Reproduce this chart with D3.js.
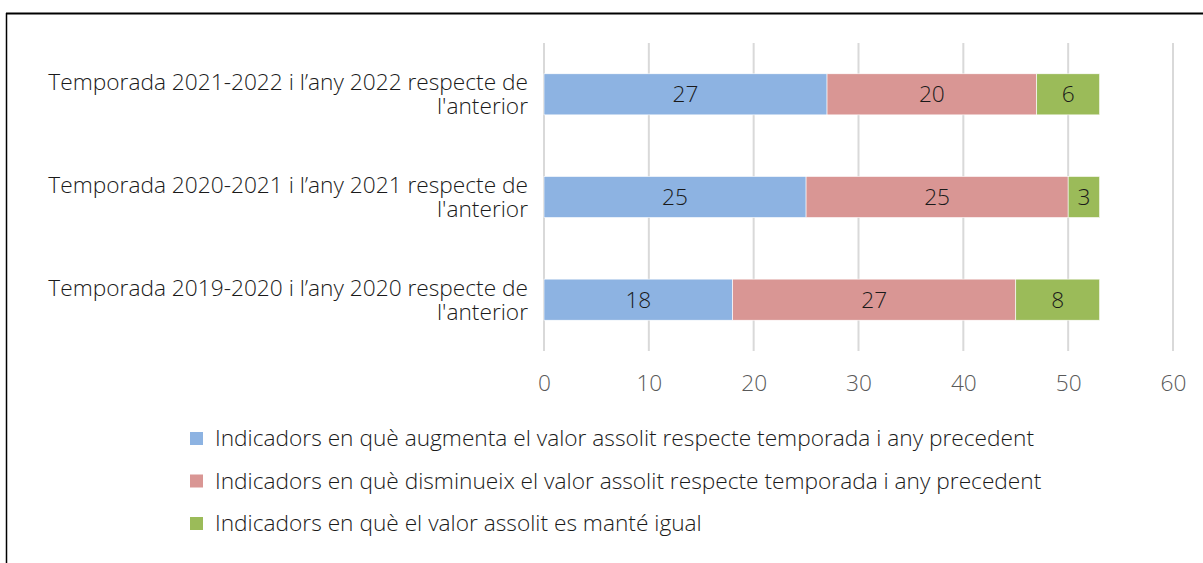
<!DOCTYPE html>
<html>
<head>
<meta charset="utf-8">
<script src="https://cdn.jsdelivr.net/npm/d3@7"></script>
<style>
  body { margin: 0; background: #fff; }
  svg text { font-family: "Open Sans", "Liberation Sans", Arial, sans-serif; font-weight: 300; }
</style>
</head>
<body>
<div id="chart"></div>
<script>
// categories (top to bottom) and the three stacked series
var categories = [
  ["Temporada 2021-2022 i l\u2019any 2022 respecte de", "l'anterior"],
  ["Temporada 2020-2021 i l\u2019any 2021 respecte de", "l'anterior"],
  ["Temporada 2019-2020 i l\u2019any 2020 respecte de", "l'anterior"]
];
var augmenta = [27, 25, 18];
var disminueix = [20, 25, 27];
var igual = [6, 3, 8];
var seriesNames = [
  "Indicadors en què augmenta el valor assolit respecte temporada i any precedent",
  "Indicadors en què disminueix el valor assolit respecte temporada i any precedent",
  "Indicadors en què el valor assolit es manté igual"
];
var seriesColors = ["#8db3e2", "#d99694", "#9bbb59"];
var xTicks = [0, 10, 20, 30, 40, 50, 60];

var W = 1203, H = 563;
var fs = "22.7px";
var svg = d3.select("#chart").append("svg")
  .attr("width", W).attr("height", H);

// outer frame (cut at top and right)
svg.append("line").attr("x1", 6).attr("x2", W).attr("y1", 13.5).attr("y2", 13.5)
  .style("stroke", "#000").style("stroke-width", 2);
svg.append("line").attr("x1", 6.5).attr("x2", 6.5).attr("y1", 13).attr("y2", H)
  .style("stroke", "#000").style("stroke-width", 1.5);

var rows = categories.map(function(c, i) {
  return { key: i, label: c, v: [augmenta[i], disminueix[i], igual[i]] };
});

var x = d3.scaleLinear().domain([0, 60]).range([544, 1173]);
var y = d3.scaleBand().domain(rows.map(function(d) { return d.key; }))
  .range([43, 351]).paddingInner(0.6).paddingOuter(0.3);

// gridlines
svg.append("g").selectAll("line").data(xTicks).enter().append("line")
  .attr("x1", function(d) { return x(d); }).attr("x2", function(d) { return x(d); })
  .attr("y1", 43).attr("y2", 351)
  .style("stroke", "#d9d9d9").style("stroke-width", 2);

// x axis labels
svg.append("g").attr("transform", "translate(0,391)")
  .call(d3.axisBottom(x).tickValues(xTicks).tickSize(0).tickPadding(0))
  .call(function(g) { g.select(".domain").remove(); })
  .selectAll("text")
  .attr("dy", 0)
  .style("font-family", "Open Sans, Liberation Sans, Arial, sans-serif")
  .style("font-weight", 300)
  .style("font-size", fs).style("fill", "#595959");

// stacked bars
var stack = d3.stack().keys([0, 1, 2]).value(function(d, k) { return d.v[k]; });
var layers = stack(rows);

var g = svg.append("g");
layers.forEach(function(layer, k) {
  g.selectAll(".s" + k).data(layer).enter().append("rect")
    .attr("x", function(d) { return x(d[0]); })
    .attr("y", function(d) { return y(d.data.key); })
    .attr("width", function(d) { return x(d[1]) - x(d[0]); })
    .attr("height", y.bandwidth())
    .style("fill", seriesColors[k])
    .style("stroke", "#fff").style("stroke-width", 0.6);
  g.selectAll(".t" + k).data(layer).enter().append("text")
    .attr("x", function(d) { return (x(d[0]) + x(d[1])) / 2; })
    .attr("y", function(d) { return y(d.data.key) + y.bandwidth() / 2 + 8; })
    .attr("text-anchor", "middle")
    .style("font-size", fs).style("fill", "#1a1a1a")
    .text(function(d) { return d[1] - d[0]; });
});

// category labels, two lines each
rows.forEach(function(r) {
  var cy = y(r.key) + y.bandwidth() / 2;
  r.label.forEach(function(line, j) {
    svg.append("text").attr("text-anchor", "end")
      .attr("x", 528).attr("y", cy - 4 + j * 24)
      .style("font-size", fs).style("fill", "#1a1a1a")
      .text(line);
  });
});

// legend
var leg = svg.append("g");
seriesNames.forEach(function(name, i) {
  var by = 446 + i * 42.5;
  leg.append("rect").attr("x", 190).attr("y", by - 14).attr("width", 13).attr("height", 13)
    .style("fill", seriesColors[i]);
  leg.append("text").attr("x", 215).attr("y", by)
    .style("font-size", fs).style("fill", "#1a1a1a").text(name);
});
</script>
</body>
</html>
